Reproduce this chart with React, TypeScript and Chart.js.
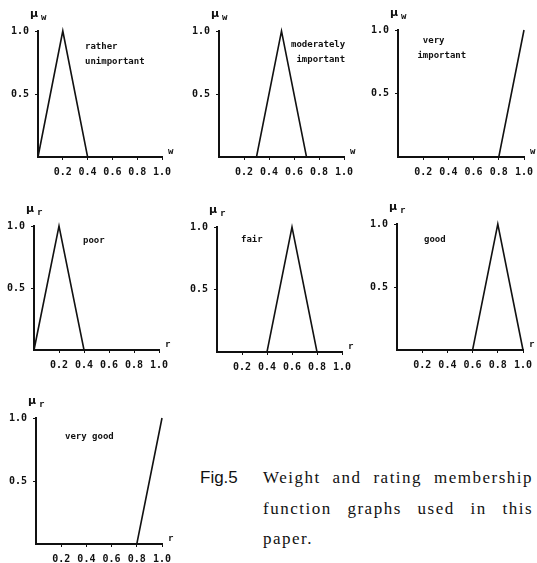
import React, { useEffect, useRef } from "react";
import { Chart, registerables } from "chart.js";

Chart.register(...registerables);

// Axis ticks shared by every membership graph
const xTickValues = [0.2, 0.4, 0.6, 0.8, 1.0];
const yTickValues = [0.5, 1.0];

// Weight terms (universe w)
const ratherUnimportantX = [0, 0.2, 0.4, 1.0];
const ratherUnimportantY = [0, 1, 0, 0];
const moderatelyImportantX = [0, 0.3, 0.5, 0.7, 1.0];
const moderatelyImportantY = [0, 0, 1, 0, 0];
const veryImportantX = [0, 0.8, 1.0];
const veryImportantY = [0, 0, 1];

// Rating terms (universe r)
const poorX = [0, 0.2, 0.4, 1.0];
const poorY = [0, 1, 0, 0];
const fairX = [0, 0.4, 0.6, 0.8, 1.0];
const fairY = [0, 0, 1, 0, 0];
const goodX = [0, 0.6, 0.8, 1.0];
const goodY = [0, 0, 1, 0];
const veryGoodX = [0, 0.8, 1.0];
const veryGoodY = [0, 0, 1];

const captionHead = "Fig.5";
const captionLines = ["Weight and rating membership", "function graphs used in this", "paper."];

type Panel = {
  x0: number; // page x of value 0
  x1: number; // page x of value 1.0
  yTop: number; // page y of membership 1.0
  yBase: number; // page y of membership 0
  xs: number[];
  ys: number[];
  v: string;
  text: string[];
  tx: number;
  ty: number;
};

const panels: Panel[] = [
  { x0: 38, x1: 162, yTop: 31, yBase: 157, xs: ratherUnimportantX, ys: ratherUnimportantY, v: "w", text: ["rather", "unimportant"], tx: 85, ty: 47 },
  { x0: 219, x1: 344, yTop: 31, yBase: 157, xs: moderatelyImportantX, ys: moderatelyImportantY, v: "w", text: ["moderately", " important"], tx: 291, ty: 45 },
  { x0: 398, x1: 524, yTop: 30, yBase: 157, xs: veryImportantX, ys: veryImportantY, v: "w", text: ["  very", " important"], tx: 412, ty: 41 },
  { x0: 34, x1: 159, yTop: 226, yBase: 350, xs: poorX, ys: poorY, v: "r", text: ["poor"], tx: 83, ty: 241 },
  { x0: 217, x1: 342, yTop: 227, yBase: 352, xs: fairX, ys: fairY, v: "r", text: ["fair"], tx: 241, ty: 240 },
  { x0: 397, x1: 523, yTop: 224, yBase: 350, xs: goodX, ys: goodY, v: "r", text: ["good"], tx: 424, ty: 240 },
  { x0: 36, x1: 162, yTop: 418, yBase: 544, xs: veryGoodX, ys: veryGoodY, v: "r", text: ["very good"], tx: 65, ty: 437 },
];

const AX_W = 40;
const AX_H = 25;
const PAD_T = 30;
const PAD_R = 22;
const INK = "#111";
const MONO = "'DejaVu Sans Mono', monospace";

function MembershipGraph({ p }: { p: Panel }) {
  const ref = useRef<HTMLCanvasElement | null>(null);
  const left = p.x0 - AX_W;
  const top = p.yTop - PAD_T;
  const width = p.x1 - p.x0 + AX_W + PAD_R;
  const height = p.yBase - p.yTop + PAD_T + AX_H;

  useEffect(() => {
    if (!ref.current) return;
    const labels = {
      id: "graphLabels",
      afterDraw(chart: any) {
        const { ctx, chartArea } = chart;
        ctx.save();
        ctx.fillStyle = INK;
        ctx.textBaseline = "middle";
        // mu with subscript above the vertical axis
        ctx.textAlign = "left";
        ctx.font = "bold 11px 'DejaVu Sans'";
        ctx.fillText("\u03bc", chartArea.left - 8, chartArea.top - 17);
        ctx.font = `bold 9px ${MONO}`;
        ctx.fillText(p.v, chartArea.left + 3, chartArea.top - 13);
        // variable name at the end of the horizontal axis
        ctx.fillText(p.v, chartArea.right + 6, chartArea.bottom - 5);
        // linguistic term
        ctx.font = `bold 9px ${MONO}`;
        p.text.forEach((t, i) => {
          ctx.fillText(t, p.tx - left, p.ty - top + i * 15);
        });
        ctx.restore();
      },
    };

    const chart = new Chart(ref.current, {
      type: "line",
      data: {
        datasets: [
          {
            data: p.xs.map((x, i) => ({ x, y: p.ys[i] })),
            borderColor: INK,
            borderWidth: 1.6,
            pointRadius: 0,
            tension: 0,
            clip: false,
          } as any,
        ],
      },
      options: {
        animation: false,
        responsive: false,
        devicePixelRatio: 1,
        layout: { padding: { left: 0, top: PAD_T, right: PAD_R, bottom: 0 } },
        plugins: { legend: { display: false }, tooltip: { enabled: false } },
        scales: {
          x: {
            type: "linear",
            min: 0,
            max: 1,
            afterBuildTicks: (s: any) => {
              s.ticks = xTickValues.map((value) => ({ value }));
            },
            afterFit: (s: any) => {
              s.height = AX_H;
            },
            grid: { drawOnChartArea: false, drawTicks: true, tickLength: 3, color: INK, lineWidth: 1 },
            border: { display: true, color: INK, width: 2 },
            ticks: {
              color: INK,
              padding: 6,
              autoSkip: false,
              maxRotation: 0,
              font: { family: MONO, size: 10, weight: "bold" },
              callback: (v: any) => Number(v).toFixed(1),
            },
          },
          y: {
            type: "linear",
            min: 0,
            max: 1,
            afterBuildTicks: (s: any) => {
              s.ticks = yTickValues.map((value) => ({ value }));
            },
            afterFit: (s: any) => {
              s.width = AX_W;
            },
            grid: { drawOnChartArea: false, drawTicks: true, tickLength: 3, color: INK, lineWidth: 1 },
            border: { display: true, color: INK, width: 2 },
            ticks: {
              color: INK,
              padding: 6,
              font: { family: MONO, size: 10, weight: "bold" },
              callback: (v: any) => Number(v).toFixed(1),
            },
          },
        },
      } as any,
      plugins: [labels],
    });
    return () => chart.destroy();
  }, []);

  return (
    <canvas
      ref={ref}
      width={width}
      height={height}
      style={{ position: "absolute", left, top, width, height }}
    />
  );
}

export default function App() {
  const serif = "'Liberation Serif', 'DejaVu Serif', serif";
  const lineStyle = (y: number, last: boolean): React.CSSProperties => ({
    position: "absolute",
    left: 263,
    top: y - 11,
    width: 270,
    fontFamily: serif,
    fontSize: 17,
    lineHeight: "22px",
    letterSpacing: 1.5,
    color: "#111",
    textAlign: last ? "left" : "justify",
    textAlignLast: last ? "left" : "justify",
    whiteSpace: "nowrap",
  } as React.CSSProperties);

  return (
    <div
      style={{
        position: "absolute",
        left: 0,
        top: 0,
        width: 537,
        height: 563,
        overflow: "hidden",
        background: "#fff",
      }}
    >
      {panels.map((p, i) => (
        <MembershipGraph key={i} p={p} />
      ))}
      <div
        style={{
          position: "absolute",
          left: 200,
          top: 478 - 11,
          fontFamily: "'Liberation Sans', 'DejaVu Sans', sans-serif",
          fontSize: 17,
          lineHeight: "22px",
          color: "#111",
        }}
      >
        {captionHead}
      </div>
      {captionLines.map((t, i) => (
        <div key={i} style={lineStyle(478 + i * 30.5, i === captionLines.length - 1)}>
          {t}
        </div>
      ))}
    </div>
  );
}
